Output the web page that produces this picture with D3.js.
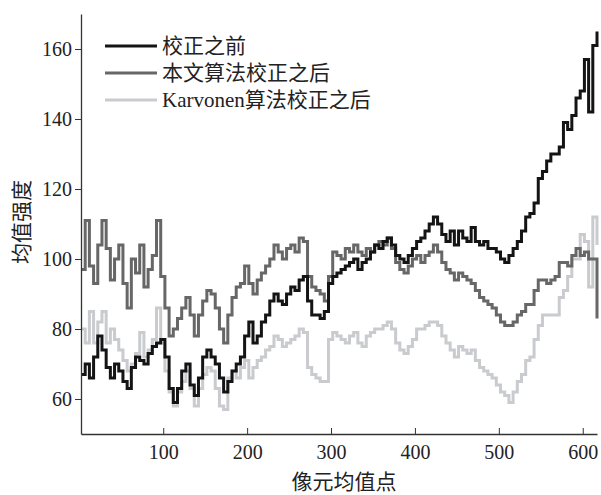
<!DOCTYPE html>
<html>
<head>
<meta charset="utf-8">
<script src="https://cdn.jsdelivr.net/npm/d3@7"></script>
<style>
  body { margin: 0; background: #fff; }
  svg { display: block; }
  svg text { font-family: "Liberation Serif", "Noto Sans CJK SC", serif; }
</style>
</head>
<body>
<div id="chart"></div>
<script>
// sample positions along the x axis (pixel mean index), every 5th point
const pointIndex = d3.range(2, 618, 5);

// 校正之前
const beforeValues = [
  67, 70, 66, 72, 78, 74, 69, 66, 70, 68, 65, 63, 69, 72, 71, 70, 73, 75, 76, 77,
  72, 63, 59, 63, 68, 70, 64, 61, 66, 72, 74, 72, 70, 66, 62, 65, 68, 70, 72, 78,
  82, 76, 78, 82, 84, 88, 90, 88, 87, 90, 92, 91, 94, 95, 88, 84, 84, 83, 85, 93,
  95, 96, 97, 98, 99, 100, 97, 99, 100, 102, 104, 103, 105, 106, 104, 101, 100, 99, 101, 103,
  105, 106, 108, 110, 112, 110, 107, 105, 108, 104, 108, 106, 105, 109, 105, 104, 105, 103, 103, 102,
  100, 99, 101, 103, 105, 108, 112, 113, 116, 123, 125, 128, 130, 130, 132, 139, 137, 141, 146, 148,
  157, 142, 161, 165
];

// 本文算法校正之后
const oursValues = [
  97, 111, 98, 93, 104, 111, 103, 94, 100, 104, 93, 86, 100, 96, 104, 92, 97, 101, 111, 95,
  86, 78, 80, 83, 86, 89, 84, 78, 84, 88, 91, 90, 86, 80, 76, 84, 89, 92, 93, 98,
  93, 90, 94, 96, 98, 100, 104, 102, 100, 103, 104, 102, 106, 105, 95, 92, 91, 90, 88, 95,
  102, 101, 100, 103, 102, 104, 102, 101, 103, 102, 104, 105, 104, 106, 103, 99, 97, 96, 98, 100,
  101, 99, 101, 102, 104, 102, 99, 97, 96, 94, 96, 95, 94, 93, 91, 89, 88, 87, 86, 84,
  82, 81, 81, 82, 84, 85, 87, 87, 91, 94, 94, 93, 94, 95, 99, 99, 98, 101, 103, 101,
  102, 100, 100, 83
];

// Karvonen算法校正之后
const karvonenValues = [
  80, 76, 85, 76, 82, 85, 76, 80, 77, 74, 71, 68, 70, 73, 79, 72, 74, 77, 86, 76,
  68, 62, 58, 62, 65, 68, 63, 58, 63, 67, 69, 68, 63, 58, 57, 66, 68, 66, 69, 71,
  66, 69, 71, 72, 74, 75, 78, 77, 75, 76, 77, 78, 80, 79, 69, 67, 66, 65, 65, 77,
  79, 78, 77, 76, 78, 79, 76, 75, 78, 79, 80, 80, 81, 82, 80, 76, 74, 73, 75, 77,
  80, 80, 81, 82, 82, 81, 78, 76, 74, 72, 75, 74, 73, 74, 71, 69, 68, 67, 66, 64,
  62, 61, 59, 62, 65, 67, 71, 72, 77, 81, 84, 84, 84, 84, 89, 91, 95, 100, 100, 107,
  105, 92, 112, 104
];

const seriesNames = ["校正之前", "本文算法校正之后", "Karvonen算法校正之后"];
const seriesColors = ["#141414", "#676767", "#c9cbcf"];
const xTicks = [100, 200, 300, 400, 500, 600];
const yTicks = [60, 80, 100, 120, 140, 160];

const width = 601;
const height = 495;
const margin = { top: 14, right: 4, bottom: 61, left: 81 };

const svg = d3
  .select("#chart")
  .append("svg")
  .attr("width", width)
  .attr("height", height);

const x = d3
  .scaleLinear()
  .domain([2, 617])
  .range([margin.left, width - margin.right]);

const y = d3
  .scaleLinear()
  .domain([50, 170])
  .range([height - margin.bottom, margin.top]);

// Lines (light one first so darker ones sit on top)
const allSeries = [beforeValues, oursValues, karvonenValues];
const line = d3
  .line()
  .x((d) => x(d[0]))
  .y((d) => y(d[1]))
  .curve(d3.curveStepAfter);

[2, 1, 0].forEach((k) => {
  const pts = pointIndex.map((p, i) => [p, allSeries[k][i]]);
  svg
    .append("path")
    .datum(pts)
    .attr("fill", "none")
    .attr("stroke", seriesColors[k])
    .attr("stroke-width", 3)
    .attr("d", line);
});

// x axis, ticks pointing inward
const xAxis = svg
  .append("g")
  .attr("transform", `translate(0,${height - margin.bottom})`)
  .call(d3.axisBottom(x).tickValues(xTicks).tickSize(-6).tickSizeOuter(0));
xAxis.select(".domain").attr("stroke", "#333").attr("stroke-width", 1.3);
xAxis.selectAll(".tick line").attr("stroke", "#333");
xAxis
  .selectAll(".tick text")
  .attr("y", 11)
  .attr("fill", "#222")
  .style("font-size", "20px");

// y axis
const yAxis = svg
  .append("g")
  .attr("transform", `translate(${margin.left},0)`)
  .call(d3.axisLeft(y).tickValues(yTicks).tickSize(6).tickPadding(3).tickSizeOuter(0));
yAxis.select(".domain").attr("stroke", "#333").attr("stroke-width", 1.3);
yAxis.selectAll(".tick line").attr("stroke", "#333");
yAxis
  .selectAll(".tick text")
  .attr("fill", "#222")
  .style("font-size", "20px");

// Axis titles
svg
  .append("text")
  .attr("x", 344)
  .attr("y", 482)
  .attr("dy", "0.35em")
  .attr("text-anchor", "middle")
  .style("font-size", "21px")
  .attr("fill", "#222")
  .text("像元均值点");

svg
  .append("text")
  .attr("transform", "translate(22,222) rotate(-90)")
  .attr("dy", "0.35em")
  .attr("text-anchor", "middle")
  .style("font-size", "21px")
  .attr("fill", "#222")
  .text("均值强度");

// Legend
const legend = svg
  .append("g")
  .selectAll("g")
  .data(seriesNames)
  .join("g")
  .attr("transform", (d, i) => `translate(105,${46 + i * 27})`);

legend
  .append("line")
  .attr("x1", 0)
  .attr("x2", 52)
  .attr("stroke", (d, i) => seriesColors[i])
  .attr("stroke-width", 3);

legend
  .append("text")
  .attr("x", 57)
  .attr("dy", "0.35em")
  .style("font-size", "21px")
  .attr("fill", "#222")
  .text((d) => d);
</script>
</body>
</html>
